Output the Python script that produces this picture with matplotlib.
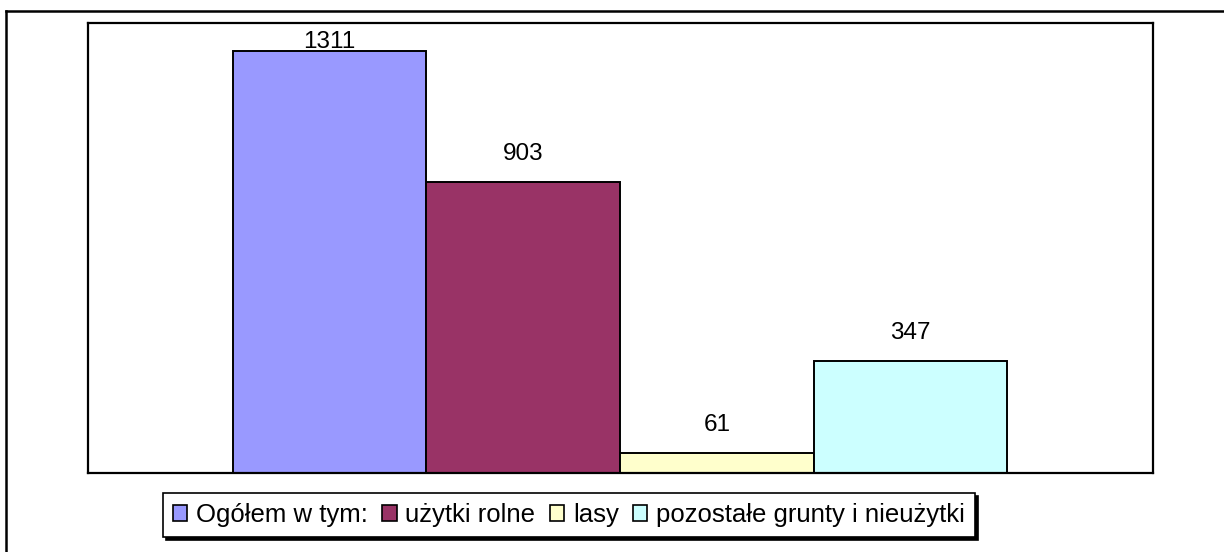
import matplotlib
matplotlib.use("Agg")
import matplotlib.pyplot as plt
from matplotlib.patches import Patch
from matplotlib.lines import Line2D

categories = ["Ogółem w tym:", "użytki rolne", "lasy", "pozostałe grunty i nieużytki"]
values = [1311, 903, 61, 347]
colors = ["#9999FF", "#993366", "#FFFFCC", "#CCFFFF"]

plt.rcParams['font.family'] = ['Liberation Sans', 'DejaVu Sans']

W, H = 1224, 552
fig = plt.figure(figsize=(W / 100, H / 100), dpi=100)
ax = fig.add_axes([88 / W, 1 - 473 / H, (1153 - 88) / W, (473 - 23) / H])

xs = list(range(len(values)))
ax.bar(xs, values, width=1.0, color=colors, edgecolor="black", linewidth=1.4)
ax.set_xlim(-1.249, 4.254)
ymax = 1398
ax.set_ylim(0, ymax)

off = 88  # data units ~ 28 px
for x, v in zip(xs, values):
    y = min(v + off, ymax - 59)
    ax.text(x, y, f"{v}", ha="center", va="center", fontsize=17.5)

ax.set_xticks([])
ax.set_yticks([])
for s in ax.spines.values():
    s.set_linewidth(1.6)
    s.set_color("black")

# outer frame
for (x0, y0, x1, y1) in [(6, 11, 6, 560), (6, 11, 1223, 11)]:
    fig.add_artist(Line2D([x0 / W, x1 / W], [1 - y0 / H, 1 - y1 / H], color="black", lw=1.8))

handles = [Patch(facecolor=c, edgecolor="black", linewidth=1.2) for c in colors]
leg = fig.legend(handles, categories, loc="center", bbox_to_anchor=(569 / W, 1 - 515 / H),
                 ncol=4, frameon=True, fancybox=False, shadow={'color': 'black', 'alpha': 1.0},
                 edgecolor="black", fontsize=18.5, handlelength=0.55, handleheight=0.55,
                 handletextpad=0.35, columnspacing=0.55, borderpad=0.4, borderaxespad=0)
leg.get_frame().set_linewidth(1.2)

fig.savefig("out.png", dpi=100)
